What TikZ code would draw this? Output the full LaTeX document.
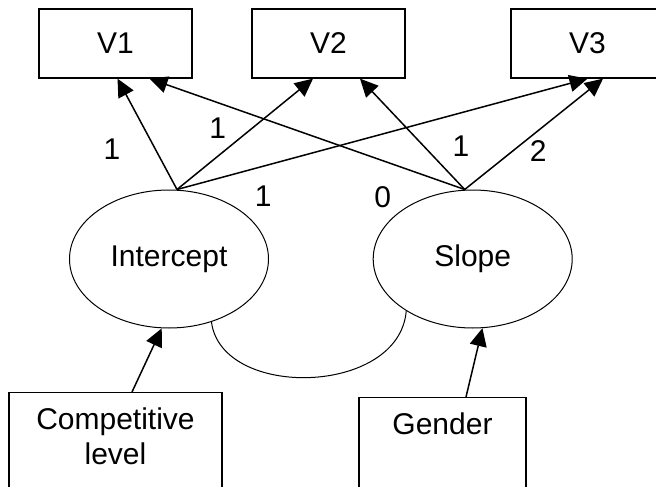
\documentclass[tikz,border=0pt]{standalone}
\usepackage{fontspec}
\setmainfont{Liberation Sans}
\usetikzlibrary{arrows.meta}
\usetikzlibrary{shapes.geometric}

\begin{document}
\begin{tikzpicture}[x=1pt, y=-1pt, font=\fontsize{30}{35}\selectfont,
  box/.style={draw, line width=1.3pt, rectangle, minimum width=153pt, minimum height=69pt, inner sep=0pt},
  latent/.style={draw, line width=1pt, ellipse, minimum width=199pt, minimum height=138pt, inner sep=0pt},
  loading/.style={-{Triangle[length=18pt,width=17pt]}, line width=1.5pt},
  boxtext/.style={anchor=north, align=center, inner sep=0pt, yshift=-16pt}]

\useasboundingbox (0,0) rectangle (656,487);
\clip (0,0) rectangle (656,487);

\node[box] (V1) at (115.5,43.5) {V1};
\node[box] (V2) at (328.5,43.5) {V2};
\node[box] (V3) at (587.5,43.5) {V3};

\node[latent] (Icpt) at (169,259) {Intercept};
\node[latent] (Slope) at (472.7,259) {Slope};

\node[box, minimum width=213pt, minimum height=120pt, anchor=north,
  label={[boxtext]north:{Competitive\\level}}] (Comp) at (115.5,392) {};
\node[box, minimum width=167pt, minimum height=120pt, anchor=north,
  label={[boxtext]north:{Gender}}] (Gender) at (442.5,397) {};

\coordinate (Itop) at ([xshift=8pt]Icpt.north);
\coordinate (Stop) at ([xshift=-8pt]Slope.north);

\draw[loading] (Itop) -- ([xshift=2pt]V1.south) node[pos=0.36, xshift=-43.6pt] {1};
\draw[loading] (Itop) -- ([xshift=-15.5pt]V2.south) node[pos=0.55, xshift=-34pt] {1};
\draw[loading] (Itop) -- (V3.south) node[pos=0.21, yshift=-30pt] {1};
\draw[loading] (Stop) -- ([xshift=34pt]V1.south) node[pos=0.26, yshift=-36pt] {0};
\draw[loading] (Stop) -- ([xshift=31.5pt]V2.south) node[pos=0.39, xshift=37pt] {1};
\draw[loading] (Stop) -- ([xshift=15.5pt]V3.south) node[pos=0.35, xshift=25pt] {2};

\draw[line width=1pt] (Icpt.-56) .. controls +(10,78) and +(-7,85) .. (Slope.-142);

\draw[loading] ([xshift=16.5pt]Comp.north) -- (Icpt.-96);
\draw[loading] ([xshift=23.5pt]Gender.north) -- (Slope.-82);

\end{tikzpicture}
\end{document}
